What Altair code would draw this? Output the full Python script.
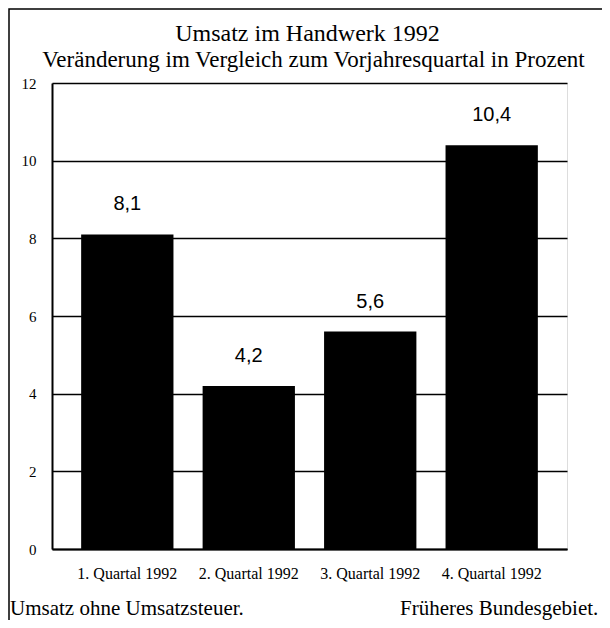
import altair as alt
import pandas as pd

quarters = ["1. Quartal 1992", "2. Quartal 1992", "3. Quartal 1992", "4. Quartal 1992"]
values = [8.1, 4.2, 5.6, 10.4]
value_labels = ["8,1", "4,2", "5,6", "10,4"]
y_ticks = [0, 2, 4, 6, 8, 10, 12]

title_text = "Umsatz im Handwerk 1992"
subtitle_text = "Veränderung im Vergleich zum Vorjahresquartal in Prozent"
note_left = "Umsatz ohne Umsatzsteuer."
note_right = "Früheres Bundesgebiet."

df = pd.DataFrame({"quartal": quarters, "wert": values, "label": value_labels})
one = pd.DataFrame({"n": [0]})

W, H = 515, 466

x_enc = alt.X(
    "quartal:N",
    sort=quarters,
    scale=alt.Scale(paddingInner=0.24, paddingOuter=0.24),
    axis=alt.Axis(
        title=None,
        labelAngle=0,
        labelFont="Liberation Serif",
        labelFontSize=16,
        labelColor="black",
        labelPadding=16,
        ticks=False,
        domainColor="black",
        domainWidth=2,
        grid=False,
    ),
)
y_enc = alt.Y(
    "wert:Q",
    scale=alt.Scale(domain=[0, 12], nice=False),
    axis=alt.Axis(
        title=None,
        values=y_ticks,
        format="d",
        labelFont="Liberation Serif",
        labelFontSize=15,
        labelColor="black",
        labelPadding=16,
        ticks=False,
        domainColor="black",
        domainWidth=2,
        grid=True,
        gridColor="black",
        gridWidth=1.6,
        gridOpacity=1,
    ),
)

bars = alt.Chart(df).mark_bar(color="black").encode(x=x_enc, y=y_enc)
texts = alt.Chart(df).mark_text(
    font="Liberation Sans", fontSize=20, baseline="bottom", dy=-20, color="black"
).encode(x=alt.X("quartal:N", sort=quarters), y="wert:Q", text="label:N")

frame = alt.Chart(one).mark_rect(filled=False, stroke="black", strokeWidth=1.5).encode(
    x=alt.value(-43), x2=alt.value(W + 60), y=alt.value(-74), y2=alt.value(H + 100)
)
title_mark = alt.Chart(one).mark_text(
    text=title_text, align="center", baseline="alphabetic", font="Liberation Serif",
    fontSize=24, color="black"
).encode(x=alt.value(W / 2 - 2), y=alt.value(-42))
subtitle_mark = alt.Chart(one).mark_text(
    text=subtitle_text, align="center", baseline="alphabetic", font="Liberation Serif",
    fontSize=23, color="black"
).encode(x=alt.value(W / 2 + 4), y=alt.value(-16))
foot_l = alt.Chart(one).mark_text(
    text=note_left, align="left", baseline="alphabetic", font="Liberation Serif",
    fontSize=21, color="black"
).encode(x=alt.value(-42), y=alt.value(532))
foot_r = alt.Chart(one).mark_text(
    text=note_right, align="left", baseline="alphabetic", font="Liberation Serif",
    fontSize=21, color="black"
).encode(x=alt.value(348), y=alt.value(532))

chart = alt.layer(frame, bars, texts, title_mark, subtitle_mark, foot_l, foot_r).properties(
    width=W,
    height=H,
    autosize=alt.AutoSizeParams(type="none"),
    padding={"left": 44, "top": 75, "right": 35, "bottom": 71},
).configure_view(stroke="black", strokeWidth=1.6).configure(background="white")

chart.save("out.html", embed_options={"renderer": "svg", "actions": False})
